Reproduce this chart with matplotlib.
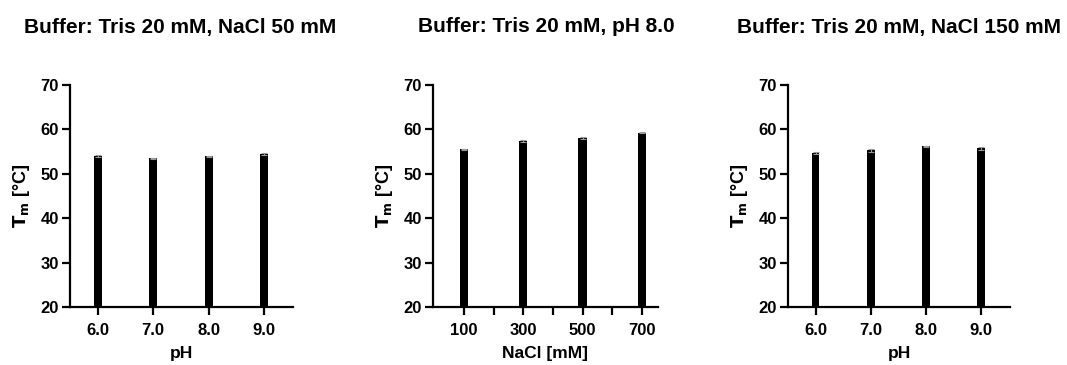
import numpy as np
import matplotlib
matplotlib.use("Agg")
import matplotlib.pyplot as plt

plt.rcParams["font.family"] = ["Liberation Sans", "DejaVu Sans"]
plt.rcParams["font.weight"] = "bold"

# === Data ===
ph_labels = ["6.0", "7.0", "8.0", "9.0"]
tm_ph_nacl50 = [54.0, 53.5, 53.9, 54.5]
err_ph_nacl50 = [0.15, 0.1, 0.15, 0.2]

nacl_conc = [100, 300, 500, 700]
tm_nacl = [55.5, 57.4, 58.0, 59.3]
err_nacl = [0.15, 0.15, 0.25, 0.15]

tm_ph_nacl150 = [54.7, 55.3, 56.2, 55.7]
err_ph_nacl150 = [0.15, 0.3, 0.1, 0.25]

titles = ["Buffer: Tris 20 mM, NaCl 50 mM",
          "Buffer: Tris 20 mM, pH 8.0",
          "Buffer: Tris 20 mM, NaCl 150 mM"]

W, H = 1067, 365
fig = plt.figure(figsize=(W / 100, H / 100), dpi=100)


def make_ax(x0, x1):
    ax = fig.add_axes([x0 / W, 1 - 307 / H, (x1 - x0) / W, (307 - 85) / H])
    ax.spines[["top", "right"]].set_visible(False)
    ax.spines[["left", "bottom"]].set_linewidth(1.6)
    ax.set_ylim(20, 70)
    ax.set_yticks([20, 30, 40, 50, 60, 70])
    ax.tick_params(width=1.6, length=5.5, labelsize=12, pad=2.5)
    ax.tick_params(axis="x", pad=6)
    ax.set_ylabel(r"$\mathbf{T_m}$ [°C]", fontsize=13, fontweight="bold", labelpad=6)
    return ax


def style_ticks(ax):
    for lbl in ax.get_xticklabels() + ax.get_yticklabels():
        lbl.set_fontweight("bold")


err_kw = dict(ecolor="#999999", elinewidth=0.8, capsize=2.5, capthick=0.8)

# panel 1
ax1 = make_ax(70, 293)
x = np.arange(len(ph_labels))
ax1.bar(x, tm_ph_nacl50, width=0.14, color="black", yerr=err_ph_nacl50, error_kw=err_kw)
ax1.set_xlim(-0.5, 3.52)
ax1.set_xticks(x)
ax1.set_xticklabels(ph_labels)
ax1.set_xlabel("pH", fontsize=12.5, fontweight="bold", labelpad=6)
style_ticks(ax1)

# panel 2
ax2 = make_ax(433, 658)
ax2.bar(nacl_conc, tm_nacl, width=28, color="black", yerr=err_nacl, error_kw=err_kw)
ax2.set_xlim(-5, 755)
ax2.set_xticks(nacl_conc)
ax2.set_xticks([200, 400, 600], minor=True)
ax2.tick_params(axis="x", which="minor", width=1.6, length=5.5)
ax2.set_xlabel("NaCl [mM]", fontsize=12.5, fontweight="bold", labelpad=6)
style_ticks(ax2)

# panel 3
ax3 = make_ax(788, 1010)
ax3.bar(x, tm_ph_nacl150, width=0.14, color="black", yerr=err_ph_nacl150, error_kw=err_kw)
ax3.set_xlim(-0.5, 3.52)
ax3.set_xticks(x)
ax3.set_xticklabels(ph_labels)
ax3.set_xlabel("pH", fontsize=12.5, fontweight="bold", labelpad=6)
style_ticks(ax3)

for cx, t in zip([180, 546, 899], titles):
    fig.text(cx / W, 1 - 27 / H, t, ha="center", va="center",
             fontsize=15, fontweight="bold")

fig.savefig("out.png", dpi=100, facecolor="white")
